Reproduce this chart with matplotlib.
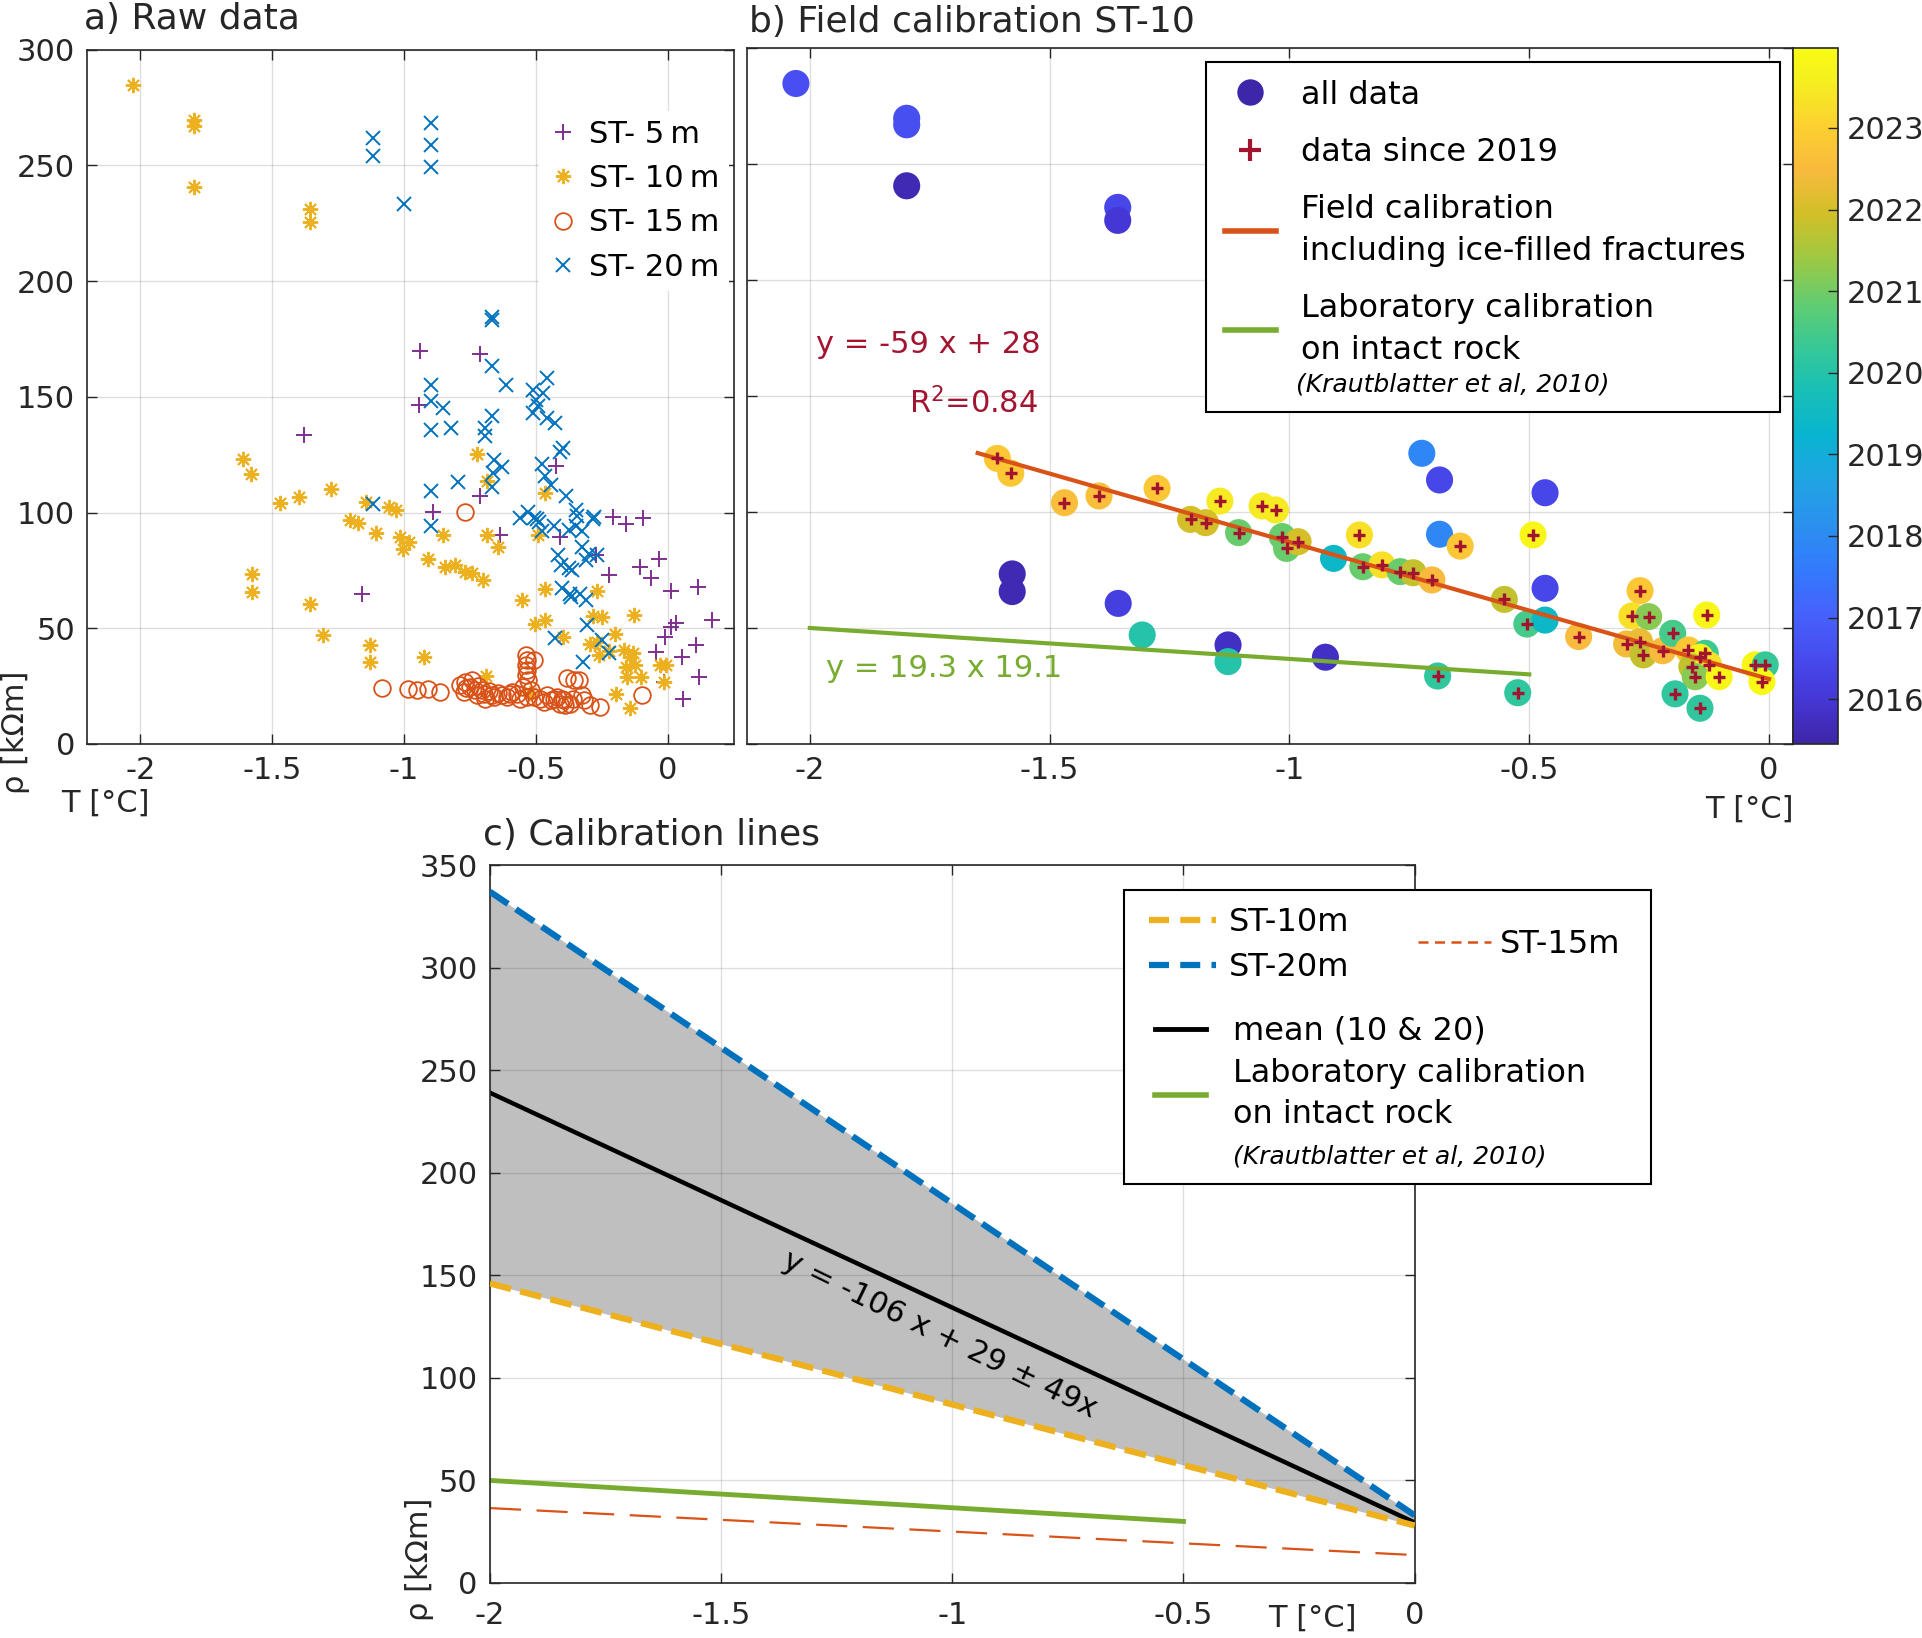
import numpy as np
import matplotlib
matplotlib.use("Agg")
import matplotlib.pyplot as plt
from matplotlib.colors import LinearSegmentedColormap, Normalize
from matplotlib.lines import Line2D
from matplotlib.patches import Rectangle

plt.rcParams['font.family'] = ['DejaVu Sans']
plt.rcParams['axes.unicode_minus'] = False
plt.rcParams['mathtext.default'] = 'regular'

# MATLAB default colours
C5 = '#7E2F8E'
C10 = '#EDB120'
C15 = '#D95319'
C20 = '#0072BD'
CLAB = '#77AC30'
CRED = '#A2142F'
INK = '#262626'

# parula (every 4th row of the MATLAB table)
parula_rgb = [
    (0.2422, 0.1504, 0.6603), (0.2706, 0.2147, 0.8364), (0.2813, 0.3006, 0.9414),
    (0.2699, 0.3892, 0.9906), (0.1963, 0.4847, 0.9892), (0.1687, 0.5703, 0.9359),
    (0.1248, 0.6459, 0.8883), (0.0297, 0.7082, 0.8163), (0.0964, 0.7500, 0.7120),
    (0.2161, 0.7843, 0.5923), (0.3909, 0.8029, 0.4354), (0.6174, 0.7876, 0.2612),
    (0.8203, 0.7498, 0.1535), (0.9728, 0.7298, 0.2394), (0.9892, 0.8136, 0.1885),
    (0.9628, 0.9373, 0.1265), (0.9769, 0.9839, 0.0805)]
parula_pos = [0, 4, 8, 12, 16, 20, 24, 28, 32, 36, 40, 44, 48, 52, 56, 60, 63]
parula = LinearSegmentedColormap.from_list(
    'parula', [(p / 63, c) for p, c in zip(parula_pos, parula_rgb)])

# ---- ST-10 data (T, rho, year, measured since 2019) ----
t10 = [-2.029, -1.798, -1.798, -1.798, -1.358, -1.358, -1.609, -1.581, -1.469, -1.397,
       -1.276, -1.145, -1.206, -1.175, -1.106, -1.057, -1.029, -1.015, -1.006, -0.982,
       -1.578, -1.578, -1.357, -1.307, -1.128, -1.128, -0.925, -0.908, -0.854, -0.847,
       -0.807, -0.769, -0.742, -0.703, -0.724, -0.687, -0.687, -0.644, -0.691, -0.552,
       -0.524, -0.505, -0.492, -0.467, -0.467, -0.467, -0.397, -0.269, -0.286, -0.251,
       -0.130, -0.297, -0.270, -0.262, -0.222, -0.201, -0.168, -0.133, -0.144, -0.161,
       -0.126, -0.154, -0.104, -0.196, -0.144, -0.029, -0.008, -0.015]
rho10 = [284.7, 269.7, 266.9, 240.6, 231.3, 225.7, 123.1, 116.7, 104.0, 106.9,
         110.2, 104.7, 96.8, 95.4, 91.1, 102.6, 100.9, 89.4, 84.3, 87.2,
         73.3, 65.7, 60.6, 47.0, 42.7, 35.5, 37.4, 80.0, 90.1, 76.4,
         77.2, 74.3, 73.8, 70.7, 125.3, 113.8, 90.4, 85.3, 29.3, 62.3,
         22.1, 51.7, 90.1, 108.3, 67.1, 53.4, 46.3, 66.1, 55.2, 54.9,
         55.6, 43.1, 44.1, 38.4, 40.2, 47.7, 40.5, 39.1, 37.4, 33.3,
         34.1, 29.0, 29.0, 21.6, 15.4, 34.1, 34.1, 26.9]
yr10 = [2016.55, 2016.6, 2016.6, 2015.6, 2016.4, 2016.0, 2022.8, 2022.8, 2022.6, 2022.6,
        2022.8, 2023.5, 2022.0, 2022.0, 2020.9, 2023.5, 2023.5, 2020.9, 2020.9, 2022.0,
        2015.6, 2015.6, 2016.2, 2020.0, 2015.8, 2020.0, 2015.8, 2019.4, 2023.3, 2020.9,
        2023.3, 2020.9, 2021.8, 2022.5, 2017.9, 2016.4, 2017.9, 2022.8, 2020.2, 2021.8,
        2020.2, 2020.5, 2023.8, 2016.4, 2016.4, 2019.4, 2022.5, 2022.8, 2023.3, 2021.2,
        2023.8, 2022.4, 2022.3, 2021.8, 2022.5, 2020.5, 2022.8, 2020.4, 2023.8, 2021.8,
        2023.3, 2021.2, 2023.8, 2020.2, 2020.2, 2023.8, 2020.3, 2023.9]
new10 = [0, 0, 0, 0, 0, 0, 1, 1, 1, 1,
         1, 1, 1, 1, 1, 1, 1, 1, 1, 1,
         0, 0, 0, 0, 0, 0, 0, 0, 1, 1,
         1, 1, 1, 1, 0, 0, 0, 1, 1, 1,
         1, 1, 1, 0, 0, 0, 1, 1, 1, 1,
         1, 1, 1, 1, 1, 1, 1, 1, 1, 1,
         1, 1, 1, 1, 1, 1, 1, 1]

# ---- other depths (panel a) ----
t5 = [-1.378, -1.16, -0.939, -0.714, -0.942, -0.714, -0.889, -0.638, -0.424, -0.408,
      -0.272, -0.208, -0.161, -0.096, -0.223, -0.106, -0.034, -0.066, 0.013, 0.114,
      0.168, 0.029, 0.013, -0.013, -0.047, 0.054, 0.105, 0.118, 0.058, -0.015]
rho5 = [133.3, 65.0, 170.0, 168.6, 146.5, 107.0, 100.1, 90.3, 120.3, 89.3,
        81.7, 98.0, 95.1, 97.6, 73.0, 76.4, 79.8, 71.9, 66.3, 68.0,
        53.6, 52.4, 50.7, 46.4, 39.9, 37.5, 42.8, 29.1, 19.5, 26.9]

t15 = [-0.768, -1.085, -0.984, -0.95, -0.909, -0.863, -0.787, -0.768, -0.764, -0.775,
       -0.749, -0.73, -0.742, -0.72, -0.705, -0.724, -0.699, -0.692, -0.68, -0.667,
       -0.661, -0.645, -0.63, -0.61, -0.6, -0.59, -0.572, -0.56, -0.55, -0.534,
       -0.52, -0.538, -0.534, -0.538, -0.534, -0.54, -0.531, -0.509, -0.509, -0.484,
       -0.47, -0.458, -0.445, -0.433, -0.42, -0.408, -0.40, -0.395, -0.389, -0.37,
       -0.36, -0.382, -0.357, -0.338, -0.325, -0.319, -0.294, -0.256, -0.097]
rho15 = [100.1, 24.1, 23.9, 23.5, 23.9, 22.5, 25.5, 26.9, 24.1, 22.6,
         24.6, 23.2, 27.7, 25.0, 23.5, 21.0, 21.8, 19.6, 23.0, 21.0,
         20.3, 22.2, 21.0, 20.3, 21.5, 22.6, 21.8, 19.6, 24.6, 20.3,
         23.2, 38.5, 36.3, 34.2, 32.0, 29.8, 27.7, 36.3, 20.3, 19.6,
         18.2, 21.0, 18.9, 19.6, 20.3, 17.4, 19.6, 18.9, 16.7, 17.4,
         19.6, 28.4, 27.7, 27.7, 21.0, 18.9, 16.7, 16.0, 21.2]

t20 = [-1.118, -1.118, -0.898, -0.898, -0.898, -1.0, -0.667, -0.667, -0.667, -0.613,
       -0.899, -0.899, -0.853, -0.899, -0.822, -0.667, -0.692, -0.692, -0.458, -0.51,
       -0.472, -0.5, -0.494, -0.51, -0.458, -0.427, -0.399, -0.408, -0.477, -0.468,
       -0.443, -0.661, -0.63, -0.663, -0.667, -0.794, -0.899, -0.899, -1.118, -0.56,
       -0.532, -0.509, -0.496, -0.49, -0.477, -0.433, -0.386, -0.347, -0.344, -0.281,
       -0.283, -0.376, -0.347, -0.325, -0.418, -0.405, -0.376, -0.363, -0.325, -0.312,
       -0.3, -0.268, -0.4, -0.372, -0.366, -0.335, -0.31, -0.307, -0.427, -0.322,
       -0.249, -0.224]
rho20 = [262.0, 254.0, 268.3, 258.6, 249.2, 233.3, 184.4, 183.3, 163.1, 155.2,
         154.9, 148.0, 145.1, 135.7, 136.5, 141.5, 136.5, 133.1, 158.0, 153.0,
         151.5, 148.5, 146.0, 143.0, 140.8, 138.6, 127.8, 126.0, 121.0, 115.6,
         112.0, 122.8, 119.6, 117.0, 111.2, 113.0, 109.5, 94.0, 103.5, 97.5,
         100.4, 97.6, 97.2, 95.7, 92.1, 94.0, 107.2, 101.0, 98.6, 98.0,
         97.0, 92.5, 94.0, 92.0, 81.7, 77.4, 76.0, 75.2, 85.0, 79.3,
         82.0, 81.7, 67.3, 64.8, 63.4, 64.8, 62.2, 51.4, 45.7, 35.3,
         45.0, 39.2]

# ---- calibration lines ----
field_T = [-1.65, 0.0]
field_rho = [125.4, 28.0]
lab_T = [-2.0, -0.5]
lab_rho = [50.0, 30.0]
line_T = [-2.0, 0.0]
st10_rho = [146.0, 28.0]
st20_rho = [337.0, 33.0]
st15_rho = [36.5, 13.6]
mean_rho = [239.0, 29.5]

year_ticks = [2016, 2017, 2018, 2019, 2020, 2021, 2022, 2023]
year_lim = (2015.45, 2023.98)
TS = 22
CITE = '(Krautblatter et al, 2010)'


def style(ax, xpad=9):
    ax.tick_params(direction='in', length=7, width=1, colors=INK, labelsize=TS,
                   top=True, right=True, pad=9)
    ax.tick_params(axis='x', pad=xpad)
    ax.grid(True, color=INK, alpha=0.15, lw=1)
    for s in ax.spines.values():
        s.set_color(INK)
        s.set_linewidth(1.2)


fig = plt.figure(figsize=(19.22, 16.38), dpi=100)

# ================= a) Raw data =================
ax_a = fig.add_axes([0.0455, 0.5458, 0.3364, 0.4239])
ax_a.set_axisbelow(True)
ax_a.plot(t5, rho5, ls='none', marker='+', ms=12, mew=1.4, color=C5, label='ST- 5\u2009m')
ax_a.plot(t10, rho10, ls='none', marker=(8, 2, 0), ms=11, mew=1.4, color=C10, label='ST- 10\u2009m')
ax_a.plot(t15, rho15, ls='none', marker='o', ms=12, mew=1.3, mfc='none', color=C15, label='ST- 15\u2009m')
ax_a.plot(t20, rho20, ls='none', marker='x', ms=10, mew=1.4, color=C20, label='ST- 20\u2009m')
ax_a.set_xlim(-2.2, 0.25)
ax_a.set_ylim(0, 300)
ax_a.set_xticks([-2, -1.5, -1, -0.5, 0])
ax_a.set_xticklabels(['-2', '-1.5', '-1', '-0.5', '0'])
ax_a.set_yticks(range(0, 301, 50))
style(ax_a)
ax_a.legend(loc='upper right', bbox_to_anchor=(0.9923, 0.912), fontsize=TS, frameon=True,
            fancybox=False, edgecolor='none', facecolor='white', framealpha=1,
            handlelength=1.0, handletextpad=0.36, labelspacing=0.5, borderpad=0.3,
            borderaxespad=0)
ax_a.text(-0.006, 1.030, 'a) Raw data', transform=ax_a.transAxes, fontsize=26,
          color=INK, va='baseline')
ax_a.text(-0.112, 0.017, 'ρ [kΩm]', transform=ax_a.transAxes, rotation=90,
          ha='center', va='center', fontsize=TS, color=INK)
ax_a.text(0.027, -0.085, 'T [°C]', transform=ax_a.transAxes, ha='center', va='center',
          fontsize=TS, color=INK)

# ================= b) Field calibration =================
ax_b = fig.add_axes([0.3889, 0.5458, 0.5440, 0.4249])
ax_b.set_axisbelow(True)
norm = Normalize(*year_lim)
sc = ax_b.scatter(t10, rho10, c=yr10, cmap=parula, norm=norm, s=380, edgecolors='none', zorder=2)
ax_b.plot(field_T, field_rho, color=C15, lw=3, zorder=3)
ax_b.plot(lab_T, lab_rho, color=CLAB, lw=3, zorder=3)
recent = np.array(new10, dtype=bool)
ax_b.plot(np.array(t10)[recent], np.array(rho10)[recent], ls='none', marker='+', ms=8,
          mew=2.4, color=CRED, zorder=4)
ax_b.set_xlim(-2.13, 0.05)
ax_b.set_ylim(0, 300)
ax_b.set_xticks([-2, -1.5, -1, -0.5, 0])
ax_b.set_xticklabels(['-2', '-1.5', '-1', '-0.5', '0'])
ax_b.set_yticks(range(0, 301, 50))
style(ax_b)
ax_b.tick_params(labelleft=False)

ax_b.text(-1.9875, 168.5, 'y = -59 x + 28', color=CRED, fontsize=TS, va='baseline')
ax_b.text(-1.525, 142.7, 'R$^{2}$=0.84', color=CRED, fontsize=TS, ha='right', va='baseline')
ax_b.text(-1.967, 28.9, 'y = 19.3 x 19.1', color=CLAB, fontsize=TS, va='baseline')

box_b = Rectangle((0.4386, 0.477), 0.549, 0.503, transform=ax_b.transAxes,
                  facecolor='white', edgecolor='black', lw=1.5, clip_on=False, zorder=4.5)
ax_b.add_patch(box_b)
hb = [Line2D([], [], ls='none', marker='o', ms=19, mfc=parula(0.0), mec='none'),
      Line2D([], [], ls='none', marker='+', ms=16, mew=3, color=CRED),
      Line2D([], [], color=C15, lw=4),
      Line2D([], [], color=CLAB, lw=4)]
lb = ['all data', 'data since 2019', 'Field calibration\nincluding ice-filled fractures',
      'Laboratory calibration\non intact rock']
leg_b = ax_b.legend(hb, lb, loc='center left', bbox_to_anchor=(0.4564, 0.749), fontsize=23,
                    frameon=False, handlelength=1.6, handletextpad=0.8, borderpad=0,
                    labelspacing=0.82, borderaxespad=0)
leg_b.set_zorder(5)
for t in leg_b.get_texts():
    t.set_linespacing(1.45)
ax_b.text(0.5247, 0.5167, CITE, transform=ax_b.transAxes, fontsize=18, style='italic',
          va='center', color='black', zorder=6)

ax_b.text(0.958, -0.093, 'T [°C]', transform=ax_b.transAxes, ha='center', va='center',
          fontsize=TS, color=INK)
ax_b.text(0.0014, 1.0224, 'b) Field calibration ST-10', transform=ax_b.transAxes,
          fontsize=26, color=INK, va='baseline')

cax = fig.add_axes([0.9329, 0.5458, 0.0234, 0.4249])
cb = fig.colorbar(sc, cax=cax, ticks=year_ticks)
cb.ax.tick_params(direction='in', length=7, width=1, labelsize=TS, colors=INK, pad=6)
cb.outline.set_edgecolor(INK)
cb.outline.set_linewidth(1.2)

# ================= c) Calibration lines =================
ax_c = fig.add_axes([0.2549, 0.0336, 0.4811, 0.4383])
ax_c.set_axisbelow('line')
ax_c.fill_between(line_T, st10_rho, st20_rho, color='#bfbfbf', lw=0, zorder=1)
ax_c.plot(line_T, st15_rho, color=C15, lw=1.6, dashes=(14, 7), zorder=2)
ax_c.plot(lab_T, lab_rho, color=CLAB, lw=3.5, zorder=2)
ax_c.plot(line_T, mean_rho, color='black', lw=3.2, zorder=2)
ax_c.plot(line_T, st10_rho, color=C10, lw=4.5, dashes=(3.5, 1.5), zorder=3)
ax_c.plot(line_T, st20_rho, color=C20, lw=4.5, dashes=(3.5, 1.5), zorder=3)
ax_c.set_xlim(-2, 0)
ax_c.set_ylim(0, 350)
ax_c.set_xticks([-2, -1.5, -1, -0.5, 0])
ax_c.set_xticklabels(['-2', '-1.5', '-1', '-0.5', '0'])
ax_c.set_yticks(range(0, 351, 50))
style(ax_c, xpad=13)

ax_c.text(-1.027, 121, 'y = -106 x + 29 ± 49x', rotation=-26, rotation_mode='anchor',
          ha='center', va='center', fontsize=TS, color='black')
ax_c.text(-0.007, 1.0273, 'c) Calibration lines', transform=ax_c.transAxes, fontsize=26,
          color=INK, va='baseline')
ax_c.text(-0.0757, 0.033, 'ρ [kΩm]', transform=ax_c.transAxes, rotation=90,
          ha='center', va='center', fontsize=TS, color=INK)
ax_c.text(0.889, -0.049, 'T [°C]', transform=ax_c.transAxes, ha='center', va='center',
          fontsize=TS, color=INK)

box = Rectangle((0.6854, 0.5561), 0.5703, 0.4094, transform=ax_c.transAxes,
                facecolor='white', edgecolor='black', lw=1.5, clip_on=False, zorder=4)
ax_c.add_patch(box)
common = dict(frameon=False, fontsize=23, borderpad=0, borderaxespad=0, loc='center left')
leg1 = ax_c.legend([Line2D([], [], color=C10, lw=4.5, dashes=(3.2, 1.8)),
                    Line2D([], [], color=C20, lw=4.5, dashes=(3.2, 1.8))],
                   ['ST-10m', 'ST-20m'], bbox_to_anchor=(0.7127, 0.8886),
                   handlelength=2.1, handletextpad=0.4, labelspacing=0.45, **common)
ax_c.add_artist(leg1)
leg2 = ax_c.legend([Line2D([], [], color=C15, lw=1.8, dashes=(4, 2.6))], ['ST-15m'],
                   bbox_to_anchor=(1.0037, 0.8896), handlelength=2.3, handletextpad=0.25,
                   **common)
ax_c.add_artist(leg2)
leg3 = ax_c.legend([Line2D([], [], color='black', lw=3.5), Line2D([], [], color=CLAB, lw=4),
                    Line2D([], [], alpha=0)],
                   ['mean (10 & 20)', 'Laboratory calibration\non intact rock', CITE],
                   bbox_to_anchor=(0.7192, 0.684), handlelength=1.6, handletextpad=0.84,
                   labelspacing=0.35, **common)
for t in leg3.get_texts():
    t.set_linespacing(1.4)
leg3.get_texts()[2].set_fontstyle('italic')
leg3.get_texts()[2].set_fontsize(18)

fig.savefig('out.png', dpi=100)
